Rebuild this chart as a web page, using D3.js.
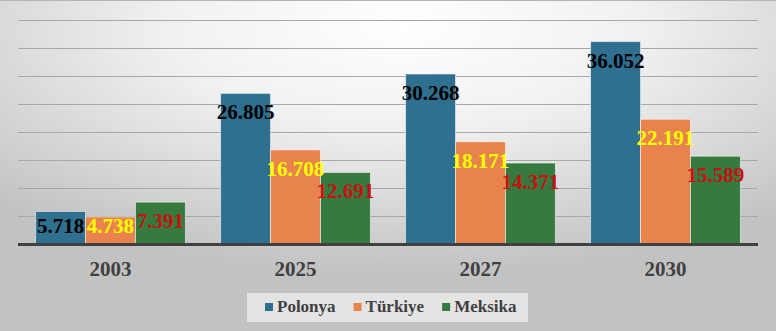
<!DOCTYPE html>
<html>
<head>
<meta charset="utf-8">
<title>Polonya Türkiye Meksika</title>
<style>
  html, body { margin: 0; padding: 0; overflow: hidden; }
  svg { display: block; }
</style>
</head>
<body>
<script src="https://cdn.jsdelivr.net/npm/d3@7"></script>
<script>
var years = ["2003", "2025", "2027", "2030"];
var seriesNames = ["Polonya", "Türkiye", "Meksika"];
var polonya = [5.718, 26.805, 30.268, 36.052];
var turkiye = [4.738, 16.708, 18.171, 22.191];
var meksika = [7.391, 12.691, 14.371, 15.589];
var gridTicks = [5, 10, 15, 20, 25, 30, 35, 40];

var barColors = ["#2f6f8f", "#e8834e", "#367a3f"];
var labelColors = ["#000000", "#ffff00", "#c81010"];

var width = 776, height = 331;
var values = [polonya, turkiye, meksika];

var svg = d3.select("body").append("svg")
  .attr("width", width)
  .attr("height", height);

// arka plan
var defs = svg.append("defs");
var grad = defs.append("radialGradient")
  .attr("id", "bg")
  .attr("cx", "52%").attr("cy", "8%").attr("r", "75%");
grad.append("stop").attr("offset", "0%").attr("stop-color", "#ffffff");
grad.append("stop").attr("offset", "40%").attr("stop-color", "#f1f1f1");
grad.append("stop").attr("offset", "100%").attr("stop-color", "#c2c2c2");

svg.append("rect")
  .attr("width", width).attr("height", height)
  .attr("fill", "url(#bg)");
svg.append("line")
  .attr("x1", 0).attr("x2", width).attr("y1", 0.5).attr("y2", 0.5)
  .attr("stroke", "#b4b4b4");

var x0 = d3.scaleBand()
  .domain(years)
  .range([18, 758])
  .paddingInner(0.19)
  .paddingOuter(0.095);

var x1 = d3.scaleBand()
  .domain(seriesNames)
  .range([0, x0.bandwidth()]);

var y = d3.scaleLinear()
  .domain([0, 40])
  .range([243.5, 19.5]);

// ızgara çizgileri
svg.append("g").selectAll("line")
  .data(gridTicks)
  .enter().append("line")
  .attr("x1", 18).attr("x2", 758)
  .attr("y1", function(d){ return Math.round(y(d)) + 0.5; })
  .attr("y2", function(d){ return Math.round(y(d)) + 0.5; })
  .attr("stroke", "#a8a8a8")
  .attr("stroke-width", 1);

// sütunlar
var groups = svg.selectAll("g.grp")
  .data(years)
  .enter().append("g")
  .attr("class", "grp")
  .attr("transform", function(d){ return "translate(" + x0(d) + ",0)"; });

groups.selectAll("rect")
  .data(function(d, i){
    return seriesNames.map(function(s, j){ return {s: s, j: j, v: values[j][i]}; });
  })
  .enter().append("rect")
  .attr("x", function(d){ return x1(d.s); })
  .attr("width", x1.bandwidth())
  .attr("y", function(d){ return y(d.v); })
  .attr("height", function(d){ return y(0) - y(d.v); })
  .attr("fill", function(d){ return barColors[d.j]; })
  .attr("stroke", "rgba(255,255,255,0.55)")
  .attr("stroke-width", 1);

// eksen
svg.append("line")
  .attr("x1", 18).attr("x2", 758)
  .attr("y1", y(0) + 1).attr("y2", y(0) + 1)
  .attr("stroke", "#404040")
  .attr("stroke-width", 3);

// veri etiketleri
groups.selectAll("text.val")
  .data(function(d, i){
    return seriesNames.map(function(s, j){ return {s: s, j: j, v: values[j][i]}; });
  })
  .enter().append("text")
  .attr("class", "val")
  .attr("x", function(d){ return x1(d.s) + x1.bandwidth() / 2; })
  .attr("y", function(d){ return Math.min(y(d.v) + 26, y(0) - 11); })
  .attr("text-anchor", "middle")
  .attr("font-family", "'Liberation Serif', 'Times New Roman', serif")
  .attr("font-weight", "bold")
  .attr("font-size", 21)
  .attr("fill", function(d){ return labelColors[d.j]; })
  .text(function(d){ return d3.format(".3f")(d.v); });

// kategori etiketleri
svg.append("g").selectAll("text")
  .data(years)
  .enter().append("text")
  .attr("x", function(d){ return x0(d) + x0.bandwidth() / 2; })
  .attr("y", 276)
  .attr("text-anchor", "middle")
  .attr("font-family", "'Liberation Serif', 'Times New Roman', serif")
  .attr("font-weight", "bold")
  .attr("font-size", 21)
  .attr("fill", "#404040")
  .text(function(d){ return d; });

// gösterge
var legend = svg.append("g");
legend.append("rect")
  .attr("x", 247).attr("y", 293)
  .attr("width", 281).attr("height", 29)
  .attr("fill", "#ececec")
  .attr("fill-opacity", 0.8);

var lx = 265;
seriesNames.forEach(function(s, j){
  legend.append("rect")
    .attr("x", lx).attr("y", 303)
    .attr("width", 8).attr("height", 8)
    .attr("fill", barColors[j]);
  var t = legend.append("text")
    .attr("x", lx + 12).attr("y", 312)
    .attr("font-family", "'Liberation Serif', 'Times New Roman', serif")
    .attr("font-weight", "bold")
    .attr("font-size", 17)
    .attr("fill", "#404040")
    .text(s);
  lx += 12 + t.node().getComputedTextLength() + 18;
});
</script>
</body>
</html>
